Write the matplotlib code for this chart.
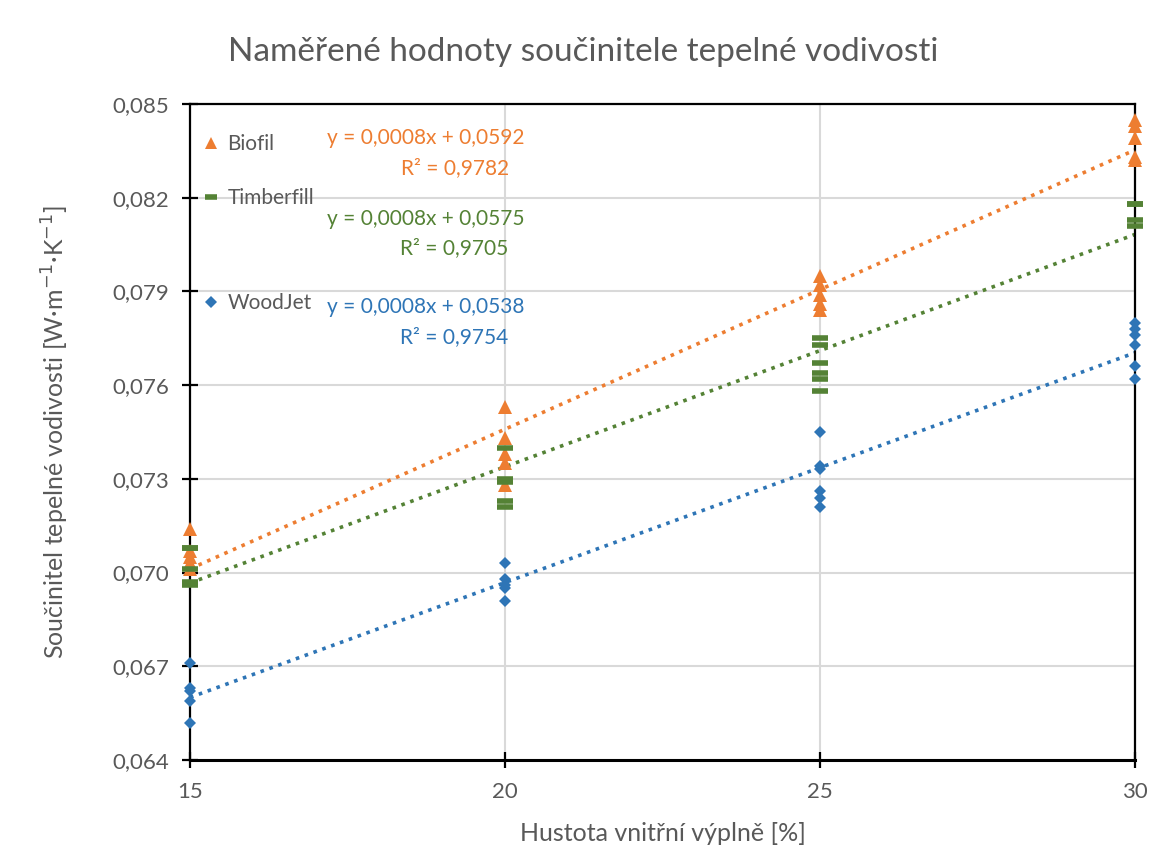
import matplotlib
matplotlib.use("Agg")
import matplotlib.pyplot as plt
from matplotlib.ticker import FuncFormatter
from matplotlib.lines import Line2D
import numpy as np

plt.rcParams['font.family'] = ['Lato', 'DejaVu Sans']

bio_x = [15, 15, 15, 15, 15, 20, 20, 20, 20, 20, 25, 25, 25, 25, 25, 30, 30, 30, 30, 30]
bio_y = [0.0714, 0.0707, 0.0705, 0.0703, 0.0701,
         0.0753, 0.0743, 0.0738, 0.0735, 0.0728,
         0.0795, 0.0792, 0.0789, 0.0786, 0.0784,
         0.0845, 0.0843, 0.0839, 0.0833, 0.0832]

tim_x = [15, 15, 15, 15, 15, 20, 20, 20, 20, 20, 25, 25, 25, 25, 25, 25, 30, 30, 30, 30]
tim_y = [0.0708, 0.0708, 0.0701, 0.0697, 0.0696,
         0.0740, 0.0730, 0.0729, 0.0723, 0.0721,
         0.0775, 0.0773, 0.0767, 0.0764, 0.0762, 0.0758,
         0.0818, 0.0818, 0.0813, 0.0811]

wood_x = [15, 15, 15, 15, 15, 20, 20, 20, 20, 20, 25, 25, 25, 25, 25, 25, 30, 30, 30, 30, 30, 30]
wood_y = [0.0671, 0.0663, 0.0662, 0.0659, 0.0652,
          0.0703, 0.0698, 0.0696, 0.0695, 0.0691,
          0.0745, 0.0734, 0.0733, 0.0726, 0.0724, 0.0721,
          0.0780, 0.0778, 0.0776, 0.0773, 0.0766, 0.0762]

names = ['Biofil', 'Timberfill', 'WoodJet']
eqs = ['y = 0,0008x + 0,0592', 'y = 0,0008x + 0,0575', 'y = 0,0008x + 0,0538']
r2s = ['R² = 0,9782', 'R² = 0,9705', 'R² = 0,9754']
xticks = [15, 20, 25, 30]
yticks = [0.064, 0.067, 0.070, 0.073, 0.076, 0.079, 0.082, 0.085]

orange = '#ED7D31'
green = '#548235'
blue = '#2E75B6'
gray = '#595959'

fig = plt.figure(figsize=(11.67, 8.61), dpi=100)
ax = fig.add_axes([0.1628, 0.1173, 0.8098, 0.7619])

series = [(bio_x, bio_y, orange, '^', 9.5),
          (tim_x, tim_y, green, '_', 11),
          (wood_x, wood_y, blue, 'D', 6.5)]

xs = np.array([15, 30])
for sx, sy, c, m, ms in series:
    k, q = np.polyfit(sx, sy, 1)
    ax.plot(xs, k * xs + q, color=c, linestyle=(0, (1, 1.6)), lw=2.6, zorder=2)

for sx, sy, c, m, ms in series:
    if m == '_':
        ax.plot(sx, sy, linestyle='none', marker=m, ms=ms, mew=4, color=c,
                zorder=4, clip_on=False)
    else:
        ax.plot(sx, sy, linestyle='none', marker=m, ms=ms, mew=0, color=c,
                zorder=3, clip_on=False)

ax.set_xlim(15, 30)
ax.set_ylim(0.064, 0.085)
ax.set_xticks(xticks)
ax.set_yticks(yticks)
ax.yaxis.set_major_formatter(FuncFormatter(lambda v, p: ('%.3f' % v).replace('.', ',')))
ax.grid(True, color='#D9D9D9', lw=1.5, zorder=0)
ax.set_axisbelow(True)
for s in ax.spines.values():
    s.set_color('black')
    s.set_linewidth(1.6)
ax.spines['bottom'].set_linewidth(2.2)
ax.tick_params(axis='both', direction='inout', length=12, width=1.6, colors='black',
               labelcolor=gray, labelsize=16)
ax.tick_params(axis='x', pad=10)
ax.tick_params(axis='y', pad=9)

fig.text(0.5, 0.940, 'Naměřené hodnoty součinitele tepelné vodivosti', fontsize=24,
         color=gray, ha='center', va='center')
ax.set_xlabel('Hustota vnitřní výplně [%]', fontsize=18, color=gray, labelpad=14)
ax.set_ylabel('Součinitel tepelné vodivosti [W·m$^{-1}$·K$^{-1}$]', fontsize=18,
              color=gray, labelpad=30)

# legend entries and trend line equations
leg_y = [0.939, 0.857, 0.696]
eq_y = [0.948, 0.825, 0.690]
colors = [orange, green, blue]
for i, (sx, sy, c, m, ms) in enumerate(series):
    if m == '_':
        h = Line2D([], [], linestyle='none', marker=m, ms=9, mew=4, color=c)
    else:
        h = Line2D([], [], linestyle='none', marker=m, ms=ms * 0.95, mew=0, color=c)
    lg = ax.legend([h], [names[i]], loc='center left', bbox_to_anchor=(0.0, leg_y[i]),
                   frameon=False, fontsize=15, handlelength=0.6, handletextpad=0.5,
                   borderaxespad=0.3, labelcolor=gray)
    ax.add_artist(lg)
    ax.text(0.249, eq_y[i], eqs[i], transform=ax.transAxes, color=colors[i],
            fontsize=15, ha='center', va='center')
    ax.text(0.28, eq_y[i] - 0.045, r2s[i], transform=ax.transAxes, color=colors[i],
            fontsize=15, ha='center', va='center')
ax.legend_ = None

fig.savefig('out.png', dpi=100)
